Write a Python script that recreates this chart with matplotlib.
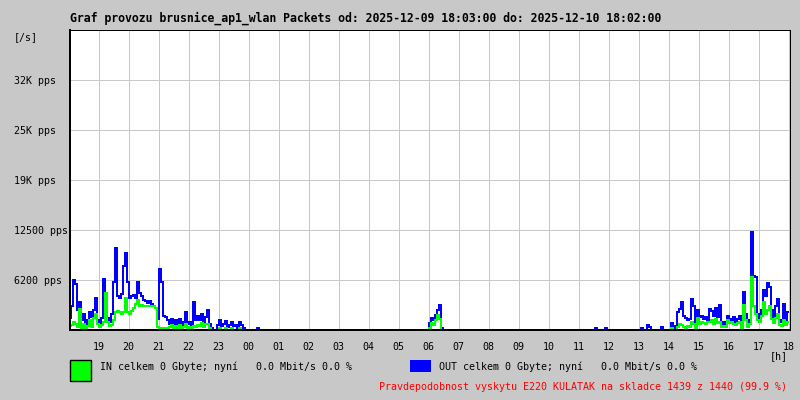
import numpy as np
import matplotlib
matplotlib.use("Agg")
import matplotlib.pyplot as plt
from matplotlib.patches import Rectangle

# packets per second, in thousands, one sample every 4 minutes from 18:03
n_samples = 360
step_min = 4
start_hour = 18 + 3 / 60.0

# evening block, samples 0..94
evening_out = [1.5, 3.0, 6.2, 5.8, 2.5, 3.5, 1.2, 2.0, 0.6, 1.2,
               2.2, 1.6, 2.5, 4.0, 1.2, 0.8, 1.5, 6.4, 4.0, 1.5,
               1.0, 2.0, 6.0, 10.2, 4.2, 4.0, 4.5, 8.0, 9.6, 6.0,
               4.0, 4.2, 4.4, 4.0, 6.0, 4.6, 4.2, 3.8, 3.6, 3.4,
               3.6, 3.2, 3.0, 2.8, 1.4, 7.6, 6.0, 1.8, 1.6, 1.2,
               0.8, 1.4, 0.6, 1.2, 0.8, 1.4, 0.5, 1.0, 2.2, 0.8,
               1.0, 0.6, 3.5, 1.2, 1.8, 1.2, 2.0, 1.0, 1.6, 2.5,
               0.8, 0.2, 0.0, 0.0, 0.6, 1.2, 0.5, 0.8, 1.1, 0.4,
               0.6, 1.0, 0.5, 0.6, 0.3, 1.0, 0.6, 0.3, 0.0, 0.0,
               0.0, 0.0, 0.0, 0.0, 0.3]
evening_in = [0.5, 0.6, 1.0, 0.8, 0.4, 2.6, 0.3, 0.8, 0.2, 0.5,
              1.2, 0.4, 1.5, 2.0, 0.8, 0.4, 0.6, 1.0, 4.6, 1.0,
              0.5, 0.6, 1.2, 2.2, 2.4, 2.2, 2.0, 2.2, 4.0, 2.2,
              2.0, 2.4, 2.8, 3.2, 3.8, 3.0, 3.1, 3.0, 3.0, 3.0,
              3.0, 3.0, 3.0, 2.8, 0.4, 0.3, 0.2, 0.2, 0.3, 0.3,
              0.4, 0.6, 0.2, 0.5, 0.3, 0.6, 0.2, 0.4, 0.8, 0.3,
              0.4, 0.2, 0.5, 0.4, 0.6, 0.5, 0.9, 0.4, 0.8, 0.7,
              0.3, 0.0, 0.0, 0.0, 0.0, 0.3, 0.0, 0.0, 0.3, 0.0,
              0.0, 0.3, 0.0, 0.0, 0.0, 0.2, 0.0, 0.0, 0.0, 0.0,
              0.0, 0.0, 0.0, 0.0, 0.0]

# morning block around 06:00, samples 179..186
morning_start = 179
morning_out = [0.0, 0.9, 1.5, 1.2, 1.9, 2.5, 3.1, 0.2]
morning_in = [0.0, 0.3, 0.9, 0.6, 1.2, 1.9, 1.4, 0.0]

# isolated small blips (OUT only)
blip_idx = [263, 268, 286, 289, 290, 296]
blip_out = [0.3, 0.2, 0.2, 0.6, 0.4, 0.4]

# afternoon block, samples 301..359
afternoon_start = 301
afternoon_out = [0.9, 0.5, 0.3, 2.2, 2.6, 3.5, 1.8, 1.5, 1.2, 1.4,
                 3.9, 3.0, 0.5, 2.5, 1.6, 1.8, 1.4, 1.6, 1.2, 2.6,
                 2.4, 1.8, 2.7, 1.6, 3.1, 0.8, 1.0, 0.6, 1.8, 1.4,
                 1.2, 1.6, 1.0, 1.4, 1.8, 0.4, 4.8, 2.0, 0.6, 1.2,
                 12.2, 6.8, 6.6, 2.0, 1.5, 2.5, 5.0, 4.2, 5.9, 5.4,
                 2.5, 1.6, 3.0, 3.9, 1.2, 1.0, 3.3, 1.2, 2.2]
afternoon_in = [0.2, 0.0, 0.0, 0.4, 0.8, 0.6, 0.4, 0.3, 0.5, 0.4,
                1.0, 0.8, 0.2, 1.5, 0.8, 1.0, 0.9, 0.7, 1.0, 1.0,
                1.2, 0.8, 1.4, 0.9, 1.0, 0.4, 0.5, 0.4, 1.2, 0.9,
                1.0, 0.8, 0.6, 0.9, 1.0, 0.3, 3.1, 1.2, 0.4, 0.8,
                6.6, 3.0, 2.0, 1.2, 1.0, 1.8, 3.5, 2.0, 2.5, 3.0,
                1.4, 0.9, 1.5, 2.0, 0.6, 0.5, 1.2, 0.6, 1.0]

ytick_vals = [6.25, 12.5, 18.75, 25.0, 31.25]
ytick_labels = ["6200 pps", "12500 pps", "19K pps", "25K pps", "32K pps"]
hour_ticks = list(range(19, 43))

title = "Graf provozu brusnice_ap1_wlan Packets od: 2025-12-09 18:03:00 do: 2025-12-10 18:02:00"
in_text = "IN celkem 0 Gbyte; nyní   0.0 Mbit/s 0.0 %"
out_text = "OUT celkem 0 Gbyte; nyní   0.0 Mbit/s 0.0 %"
note_text = "Pravdepodobnost vyskytu E220 KULATAK na skladce 1439 z 1440 (99.9 %)"

# assemble full series
out_vals = np.zeros(n_samples)
in_vals = np.zeros(n_samples)
out_vals[:len(evening_out)] = evening_out
in_vals[:len(evening_in)] = evening_in
out_vals[morning_start:morning_start + len(morning_out)] = morning_out
in_vals[morning_start:morning_start + len(morning_in)] = morning_in
out_vals[blip_idx] = blip_out
out_vals[afternoon_start:afternoon_start + len(afternoon_out)] = afternoon_out
in_vals[afternoon_start:afternoon_start + len(afternoon_in)] = afternoon_in
t = start_hour + np.arange(n_samples) * step_min / 60.0

W, H = 800, 400
bg = "#c8c8c8"
mono = "DejaVu Sans Mono"

def fx(x):
    return x / W

def fy(y):
    return 1 - y / H

fig = plt.figure(figsize=(8, 4), dpi=100, facecolor=bg)
ax = fig.add_axes([fx(70), fy(330), 720 / W, 300 / H])
ax.set_facecolor("white")

ax.plot(t, out_vals, color="#0000ff", lw=1.1, drawstyle="steps-mid",
        antialiased=False, zorder=3)
ax.plot(t, in_vals, color="#00ff00", lw=1.1, drawstyle="steps-mid",
        antialiased=False, zorder=4)

ax.set_xlim(start_hour, start_hour + 24)
ax.set_ylim(0, 37.5)
ax.set_xticks(hour_ticks)
ax.set_xticklabels(["%02d" % (h % 24) for h in hour_ticks], fontsize=7.2, family=mono)
ax.set_yticks(ytick_vals)
ax.set_yticklabels(ytick_labels, fontsize=7.2, family=mono)
for lab in ax.get_yticklabels():
    lab.set_horizontalalignment("left")
ax.tick_params(axis="y", length=0, pad=40.5)
ax.tick_params(axis="x", length=0, pad=9)
ax.grid(True, color="#c8c8c8", lw=0.72, antialiased=False, zorder=1)

for side in ["left", "bottom"]:
    ax.spines[side].set_linewidth(1.44)
for side in ["top", "right"]:
    ax.spines[side].set_linewidth(0.72)
for sp in ax.spines.values():
    sp.set_color("black")
    sp.set_zorder(5)

fig.text(fx(70), fy(18), title, fontsize=8.3, family=mono, weight="bold", va="center", ha="left")
fig.text(fx(14), fy(37), "[/s]", fontsize=7.2, family=mono, va="center", ha="left")
fig.text(fx(788), fy(356), "[h]", fontsize=7.2, family=mono, va="center", ha="right")

fig.add_artist(Rectangle((fx(70), fy(381)), 21 / W, 21 / H, transform=fig.transFigure,
                         facecolor="#00ff00", edgecolor="black", lw=1))
fig.text(fx(100), fy(367), in_text, fontsize=7.2, family=mono, va="center", ha="left")
fig.add_artist(Rectangle((fx(410), fy(372)), 21 / W, 12 / H, transform=fig.transFigure,
                         facecolor="#0000ff", edgecolor="none"))
fig.text(fx(439), fy(367), out_text, fontsize=7.2, family=mono, va="center", ha="left")
fig.text(fx(787), fy(387), note_text, fontsize=7.2, family=mono, color="#ff0000",
         va="center", ha="right")

fig.savefig("out.png", dpi=100, facecolor=bg)
